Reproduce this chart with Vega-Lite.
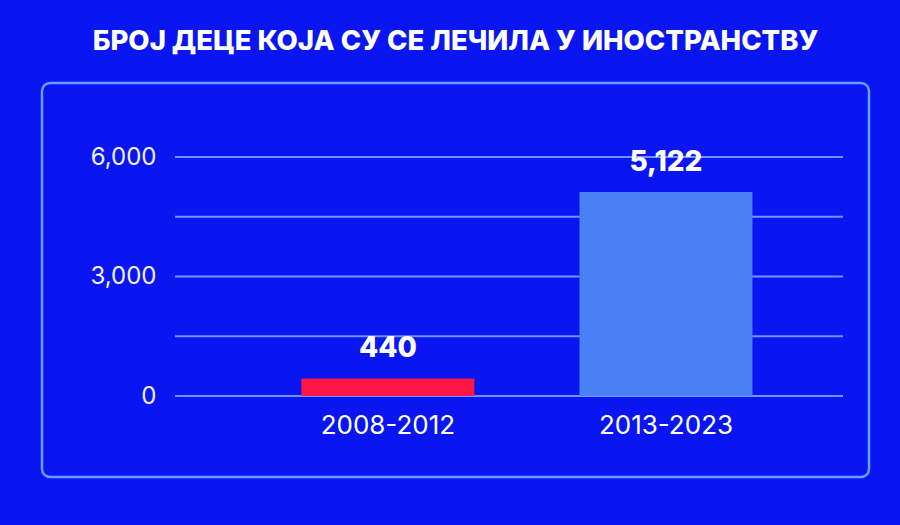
{
  "$schema": "https://vega.github.io/schema/vega-lite/v6.json",
  "width": 827,
  "height": 394,
  "autosize": {"type": "none"},
  "padding": {"left": 42, "top": 83, "right": 31, "bottom": 48},
  "background": "#0a16f2",
  "title": {
    "text": "БРОЈ ДЕЦЕ КОЈА СУ СЕ ЛЕЧИЛА У ИНОСТРАНСТВУ",
    "font": "Inter",
    "fontSize": 27.5,
    "fontWeight": 800,
    "color": "#ffffff",
    "anchor": "middle",
    "offset": 28,
    "frame": "group"
  },
  "datasets": {
    "bars": [
      {"period": "2008-2012", "children": 440},
      {"period": "2013-2023", "children": 5122}
    ],
    "grid": [
      {"tick": 0},
      {"tick": 1500},
      {"tick": 3000},
      {"tick": 4500},
      {"tick": 6000}
    ]
  },
  "layer": [
    {
      "data": {"name": "grid"},
      "mark": {"type": "rule", "color": "#6f95ff", "strokeWidth": 2},
      "encoding": {
        "y": {
          "field": "tick",
          "type": "quantitative",
          "scale": {"domain": [0, 6000], "range": [313, 74], "nice": false},
          "axis": {
            "orient": "left",
            "offset": -114,
            "values": [0, 3000, 6000],
            "labelExpr": "format(datum.value, ',')",
            "domain": false,
            "ticks": false,
            "grid": false,
            "labelPadding": 0,
            "labelFont": "Inter",
            "labelFontSize": 24,
            "labelColor": "#eef1ff",
            "title": null
          }
        },
        "x": {
          "datum": 0,
          "type": "quantitative",
          "scale": {"domain": [0, 1], "range": [133, 801]},
          "axis": null
        },
        "x2": {"datum": 1}
      }
    },
    {
      "data": {"name": "bars"},
      "layer": [
        {
          "mark": {"type": "bar"},
          "encoding": {
            "x": {
              "field": "period",
              "type": "nominal",
              "sort": null,
              "scale": {"paddingInner": 0.378, "paddingOuter": 0.676, "align": 0.69},
              "axis": {
                "orient": "bottom",
                "offset": -78,
                "domain": false,
                "ticks": false,
                "labelPadding": 13,
                "labelAngle": 0,
                "labelFont": "Inter",
                "labelFontSize": 26,
                "labelColor": "#ffffff",
                "title": null
              }
            },
            "y": {"field": "children", "type": "quantitative"},
            "color": {
              "field": "period",
              "type": "nominal",
              "scale": {"domain": ["2008-2012", "2013-2023"], "range": ["#ff1744", "#4b7ff5"]},
              "legend": null
            }
          }
        },
        {
          "mark": {
            "type": "text",
            "font": "Inter",
            "fontSize": 28,
            "fontWeight": 800,
            "color": "#ffffff",
            "baseline": "alphabetic",
            "align": "center",
            "dy": -21
          },
          "encoding": {
            "x": {"field": "period", "type": "nominal", "sort": null},
            "y": {"field": "children", "type": "quantitative"},
            "text": {"field": "children", "type": "quantitative", "format": ","}
          }
        }
      ]
    }
  ],
  "resolve": {"scale": {"x": "independent"}, "axis": {"x": "independent"}},
  "config": {
    "view": {"stroke": "#6d9cff", "strokeWidth": 2.5, "cornerRadius": 8}
  }
}
